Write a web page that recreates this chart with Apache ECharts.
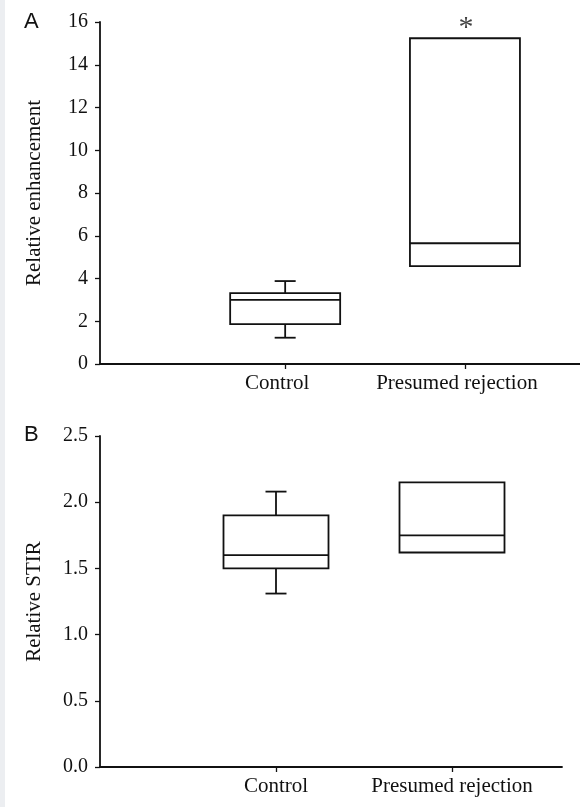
<!DOCTYPE html>
<html>
<head>
<meta charset="utf-8">
<script src="https://cdn.jsdelivr.net/npm/echarts@6/dist/echarts.min.js"></script>
<style>
  html, body { margin: 0; padding: 0; background: #fff; }
  #strip { position: absolute; left: 0; top: 0; width: 5px; height: 807px; background: #eceef1; }
  #chart { position: absolute; left: 0; top: 0; width: 580px; height: 807px; }
</style>
</head>
<body>
<div id="chart"></div>
<div id="strip"></div>
<script>
// groups on the x axis
const groups = ['Control', 'Presumed rejection']
const groupPos = [1, 2]

// panel A: relative enhancement [pos, min, q1, median, q3, max]
const enhControl = [1, 1.23, 1.87, 3.0, 3.32, 3.88]
const enhRejection = [2, 4.58, 4.58, 5.65, 15.24, 15.24]

// panel B: relative STIR
const stirControl = [1, 1.31, 1.50, 1.60, 1.90, 2.08]
const stirRejection = [2, 1.62, 1.62, 1.75, 2.15, 2.15]

// significance marker over the rejection box in A
const starMark = [2, 16]

const serif = 'Liberation Serif'
const ink = '#111'
const boxHalf = [55, 52.5]
const capHalf = 10.5

function renderBox(params, api) {
  const x = api.value(0)
  const lo = api.coord([x, api.value(1)])
  const q1 = api.coord([x, api.value(2)])
  const md = api.coord([x, api.value(3)])
  const q3 = api.coord([x, api.value(4)])
  const hi = api.coord([x, api.value(5)])
  const bw = boxHalf[params.seriesIndex > 1 ? 1 : 0]
  const cx = q1[0]
  const style = { stroke: ink, lineWidth: 1.8, fill: null }
  const kids = [
    { type: 'rect', shape: { x: cx - bw, y: q3[1], width: bw * 2, height: q1[1] - q3[1] }, style: { stroke: ink, lineWidth: 1.8, fill: '#fff' } },
    { type: 'line', shape: { x1: cx - bw, y1: md[1], x2: cx + bw, y2: md[1] }, style }
  ]
  if (hi[1] < q3[1] - 0.5) {
    kids.push({ type: 'line', shape: { x1: cx, y1: q3[1], x2: cx, y2: hi[1] }, style })
    kids.push({ type: 'line', shape: { x1: cx - capHalf, y1: hi[1], x2: cx + capHalf, y2: hi[1] }, style })
  }
  if (lo[1] > q1[1] + 0.5) {
    kids.push({ type: 'line', shape: { x1: cx, y1: q1[1], x2: cx, y2: lo[1] }, style })
    kids.push({ type: 'line', shape: { x1: cx - capHalf, y1: lo[1], x2: cx + capHalf, y2: lo[1] }, style })
  }
  return { type: 'group', children: kids }
}

function xAxis(gridIndex, min, max, shift) {
  return {
    type: 'value', gridIndex, min, max,
    splitLine: { show: false },
    axisLine: { show: true, onZero: false, lineStyle: { color: ink, width: 1.8 } },
    axisTick: { show: true, customValues: groupPos, length: 5, lineStyle: { color: ink, width: 1.3 } },
    axisLabel: {
      customValues: groupPos, margin: 9, padding: [0, shift, 0, 0],
      fontFamily: serif, fontSize: 21, color: ink,
      formatter: (v) => groups[Math.round(v) - 1] || ''
    }
  }
}

function yAxis(gridIndex, max, interval, name, digits) {
  return {
    type: 'value', gridIndex, min: 0, max, interval,
    name, nameLocation: 'middle', nameGap: 55,
    nameTextStyle: { fontFamily: serif, fontSize: 21, color: ink },
    splitLine: { show: false },
    axisLine: { show: true, onZero: false, lineStyle: { color: ink, width: 1.8 } },
    axisTick: { show: true, length: 5, lineStyle: { color: ink, width: 1.3 } },
    axisLabel: {
      margin: 12, fontFamily: serif, fontSize: 20, color: ink,
      formatter: (v) => v.toFixed(digits)
    }
  }
}

const chart = echarts.init(document.getElementById('chart'), null, { renderer: 'canvas', width: 580, height: 807 })

chart.setOption({
  animation: false,
  backgroundColor: '#fff',
  title: [
    { text: 'A', left: 19, top: 6, textStyle: { fontFamily: 'Liberation Sans', fontSize: 22, fontWeight: 'normal', color: '#111' } },
    { text: 'B', left: 19, top: 419, textStyle: { fontFamily: 'Liberation Sans', fontSize: 22, fontWeight: 'normal', color: '#111' } }
  ],
  grid: [
    { left: 100, top: 22, width: 480, height: 342 },
    { left: 100, top: 436, width: 462, height: 331 }
  ],
  xAxis: [xAxis(0, -0.03, 2.64, 16), xAxis(1, 0, 2.625, 0)],
  yAxis: [
    yAxis(0, 16, 2, 'Relative enhancement', 0),
    yAxis(1, 2.5, 0.5, 'Relative STIR', 1)
  ],
  series: [
    { type: 'custom', xAxisIndex: 0, yAxisIndex: 0, renderItem: renderBox, data: [enhControl, enhRejection] },
    { type: 'scatter', xAxisIndex: 0, yAxisIndex: 0, symbolSize: 0, data: [starMark],
      label: { show: true, position: 'inside', formatter: '*', fontFamily: serif, fontSize: 30, color: ink, offset: [1, 6] } },
    { type: 'custom', xAxisIndex: 1, yAxisIndex: 1, renderItem: renderBox, data: [stirControl, stirRejection] }
  ]
})
</script>
</body>
</html>
